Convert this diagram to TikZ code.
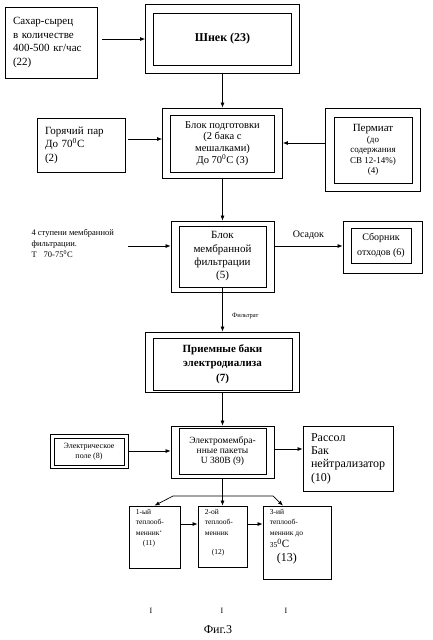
\documentclass[tikz,border=0pt]{standalone}
\usepackage{fontspec}
\setmainfont{Liberation Serif}
\usetikzlibrary{arrows.meta}

\begin{document}
\begin{tikzpicture}[x=1pt, y=-1pt,
  box/.style={draw, line width=0.8pt, inner sep=0pt, align=center},
  arr/.style={-{Latex[length=5pt,width=4pt]}, line width=0.7pt}]
  \useasboundingbox (0,0) rectangle (433,640);
  % top row
  \node[box, minimum width=92pt, minimum height=71pt, text width=76pt, align=left,
    font=\fontsize{11}{13.7}\selectfont] (b22) at (51,42.5)
    {Сахар-сырец\\в количестве\\400-500 кг/час\\(22)};
  \node[box, minimum width=154pt, minimum height=69pt] (shnekO) at (222.5,38.5) {};
  \node[box, minimum width=138pt, minimum height=52pt,
    font=\fontsize{12}{14}\selectfont\bfseries] (shnek) at (222.5,39) {Шнек (23)};
  % preparation
  \node[box, minimum width=88pt, minimum height=54pt, text width=72pt, align=left,
    font=\fontsize{11}{13.5}\selectfont] (b2) at (81,145)
    {Горячий пар\\До 70\textsuperscript{0}С\\(2)};
  \node[box, minimum width=120pt, minimum height=70pt] (b3O) at (222.5,143) {};
  \node[box, minimum width=104pt, minimum height=57pt,
    font=\fontsize{10.5}{11.7}\selectfont] (b3) at (222.5,143.5)
    {Блок подготовки\\(2 бака с\\мешалками)\\До 70\textsuperscript{0}С (3)};
  \node[box, minimum width=95pt, minimum height=83pt] (b4O) at (372.5,149.5) {};
  \node[box, minimum width=78pt, minimum height=66pt,
    font=\fontsize{9}{10.5}\selectfont] (b4) at (373,150)
    {{\fontsize{11}{14}\selectfont Пермиат}\\(до\\содержания\\СВ 12-14\%)\\(4)};
  % membrane filtration
  \node[align=left, anchor=west, font=\fontsize{8.5}{11}\selectfont] (stup) at (28,243)
    {4 ступени мембранной\\фильтрации.\\Т\hspace{7pt}70-75\textsuperscript{0}С};
  \node[box, minimum width=103pt, minimum height=71pt] (b5O) at (222.5,256.5) {};
  \node[box, minimum width=87pt, minimum height=61pt,
    font=\fontsize{11}{13.3}\selectfont] (b5) at (222.5,256.5)
    {Блок\\мембранной\\фильтрации\\(5)};
  \node[box, minimum width=79pt, minimum height=52pt] (b6O) at (382.5,247) {};
  \node[box, minimum width=60pt, minimum height=35pt,
    font=\fontsize{10}{14.5}\selectfont] (b6) at (381,245.5) {Сборник\\отходов (6)};
  % electrodialysis
  \node[box, minimum width=154pt, minimum height=60pt] (b7O) at (222.5,362) {};
  \node[box, minimum width=139pt, minimum height=52pt,
    font=\fontsize{11}{14.5}\selectfont\bfseries] (b7) at (222.5,364)
    {Приемные баки\\электродиализа\\(7)};
  \node[box, minimum width=78pt, minimum height=34pt] (b8O) at (89,451) {};
  \node[box, minimum width=70pt, minimum height=27pt,
    font=\fontsize{8}{9.5}\selectfont] (b8) at (89,451.5) {Электрическое\\поле (8)};
  \node[box, minimum width=103pt, minimum height=52pt] (b9O) at (222.5,452) {};
  \node[box, minimum width=87pt, minimum height=46pt,
    font=\fontsize{9.5}{10.3}\selectfont] (b9) at (222.5,451)
    {Электромембра-\\нные пакеты\\U 380В (9)};
  \node[box, minimum width=90pt, minimum height=65pt, text width=74pt, align=left,
    font=\fontsize{12}{13.4}\selectfont] (b10) at (348,458.5)
    {Рассол\\Бак\\нейтрализатор\\(10)};
  % heat exchangers
  \node[box, minimum width=51pt, minimum height=62pt] (b11) at (154.5,537) {};
  \node[box, minimum width=49pt, minimum height=61pt] (b12) at (222.5,536.5) {};
  \node[box, minimum width=68pt, minimum height=73pt] (b13) at (297,542.5) {};
  \node[anchor=north west, inner sep=0pt, align=left, font=\fontsize{7.5}{10.5}\selectfont]
    (t11) at ([xshift=7pt,yshift=-3.5pt]b11.north west)
    {1-ый\\теплооб-\\менник`\\\hspace*{7pt}(11)};
  \node[anchor=north west, inner sep=0pt, align=left, font=\fontsize{7.5}{10.5}\selectfont]
    (t12) at ([xshift=7pt,yshift=-3.5pt]b12.north west)
    {2-ой\\теплооб-\\менник\\[9pt]\hspace*{7pt}(12)};
  \node[anchor=north west, inner sep=0pt, align=left, font=\fontsize{7.5}{10.5}\selectfont]
    (t13) at ([xshift=7pt,yshift=-3.5pt]b13.north west)
    {3-ий\\теплооб-\\менник до\\[2pt]35\textsuperscript{\fontsize{8}{8}\selectfont0}{\fontsize{11}{11}\selectfont C}\\[3pt]
     \hspace*{7pt}{\fontsize{12}{12}\selectfont(13)}};
  % marks and caption
  \foreach \mx [count=\i] in {151,222,286}
    \node[font=\fontsize{8}{8}\selectfont] (mk\i) at (\mx,611) {I};
  \node[font=\fontsize{12}{14}\selectfont] (fig) at (218,630) {Фиг.3};
  % connectors
  \coordinate (in3) at ([yshift=4pt]b3O.west);
  \coordinate (in5) at ([yshift=10.5pt]b5O.west);
  \coordinate (c5) at (128,246);
  \draw[arr, shorten <=5pt] (b22.east |- shnek) -- (shnekO.west |- shnek);
  \draw[arr] (shnekO.south) -- (b3O.north);
  \draw[arr, shorten <=3pt] (b2.east |- in3) -- (in3);
  \draw[arr] (b4O.west |- b3O) -- (b3O.east);
  \draw[arr] (b3O.south) -- (b5O.north);
  \draw[arr] (c5) -- (in5);
  \draw[arr] (in5 -| b5O.east) -- (in5 -| b6O.west)
    node[midway, above=3pt, font=\fontsize{10}{12}\selectfont] {Осадок};
  \draw[arr] (b5.south) -- (b7O.north)
    node[pos=0.64, right=6pt, font=\fontsize{6.5}{8}\selectfont] {Фильтрат};
  \draw[arr] (b7O.south) -- (b9O.north);
  \draw[arr] (b8O.east) -- (b8O.east -| b9O.west);
  \draw[arr] ([yshift=3pt]b9O.east) -- ([yshift=3pt]b9O.east -| b10.west);
  \coordinate (spl) at (222.5,496);
  \coordinate (splL) at (173,496);
  \coordinate (splR) at (273,496);
  \draw[arr] (b9O.south) -- (spl) -- (b12.north);
  \draw[arr] (spl) -- (splL) -- (b11.north);
  \draw[arr] (spl) -- (splR) -- ([xshift=-14pt]b13.north);
  \coordinate (h1) at ([yshift=13pt]b11.east);
  \draw[arr] (h1) -- (h1 -| b12.west);
  \draw[arr] (h1 -| b12.east) -- (h1 -| b13.west);
\end{tikzpicture}
\end{document}
